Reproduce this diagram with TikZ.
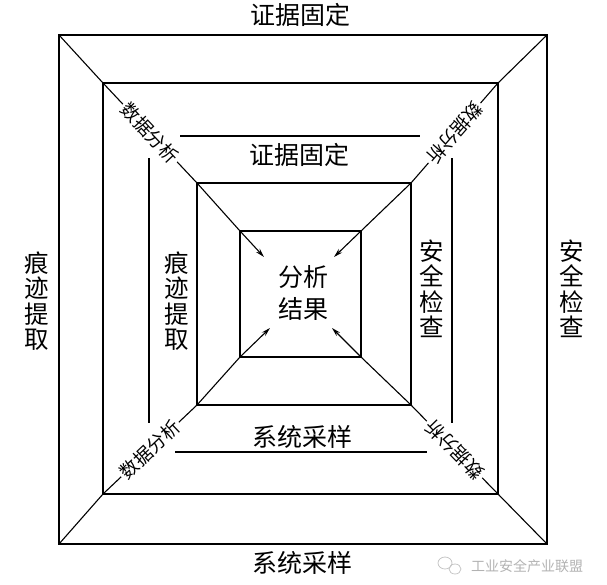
\documentclass[tikz,border=0pt]{standalone}
\usepackage{fontspec}
\setmainfont{Noto Sans CJK SC}
\usetikzlibrary{arrows.meta}

\begin{document}
\begin{tikzpicture}[x=1pt, y=-1pt,
    frame/.style={line width=1.1pt, draw=black},
    bar/.style={line width=1.1pt, draw=black},
    lbl/.style={font=\fontsize{25}{28}\selectfont, inner sep=0pt},
    vlbl/.style={font=\fontsize{24.5}{25.5}\selectfont, align=center, inner sep=0pt},
    diag/.style={font=\fontsize{18.5}{20}\selectfont, fill=white, inner sep=2.5pt, sloped, allow upside down},
    toward/.style={line width=1.1pt, -{Stealth[length=9pt, width=5pt]}}
]
    \useasboundingbox (0,0) rectangle (607,584);

    % Corners of the four squares
    \coordinate (oTL) at (59,35);   \coordinate (oTR) at (547,35);
    \coordinate (oBR) at (547,544); \coordinate (oBL) at (59,544);
    \coordinate (sTL) at (103,83);  \coordinate (sTR) at (498,83);
    \coordinate (sBR) at (498,494); \coordinate (sBL) at (103,494);
    \coordinate (mTL) at (197,183); \coordinate (mTR) at (411,183);
    \coordinate (mBR) at (411,405); \coordinate (mBL) at (197,405);
    \coordinate (iTL) at (240,231); \coordinate (iTR) at (361,231);
    \coordinate (iBR) at (361,357); \coordinate (iBL) at (240,357);
    % Arrow tips
    \coordinate (tTL) at (264,257); \coordinate (tTR) at (334,257);
    \coordinate (tBL) at (270,328); \coordinate (tBR) at (332,328);

    % Squares
    \draw[frame] (oTL) rectangle (oBR);
    \draw[frame] (sTL) rectangle (sBR);
    \draw[frame] (mTL) rectangle (mBR);
    \draw[frame] (iTL) rectangle (iBR);

    % Outer diagonals
    \draw[frame] (oTL) -- (sTL);
    \draw[frame] (oTR) -- (sTR);
    \draw[frame] (oBR) -- (sBR);
    \draw[frame] (oBL) -- (sBL);

    % Diagonals with labels
    \draw[frame] (sTL) -- node[diag] (dTL) {数据分析} (mTL);
    \draw[frame] (sTR) -- node[diag] (dTR) {数据分析} (mTR);
    \draw[frame] (sBR) -- node[diag] (dBR) {数据分析} (mBR);
    \draw[frame] (sBL) -- node[diag] (dBL) {数据分析} (mBL);

    % Arrows to the result
    \draw[toward] (mTL) -- (iTL) -- (tTL);
    \draw[toward] (mTR) -- (iTR) -- (tTR);
    \draw[toward] (mBR) -- (iBR) -- (tBR);
    \draw[toward] (mBL) -- (iBL) -- (tBL);

    % Bars in the middle ring
    \draw[bar] (180,136) -- (420,136);
    \draw[bar] (175,452) -- (427,452);
    \draw[bar] (149,158) -- (149,423);
    \draw[bar] (452,158) -- (452,423);

    % Outer labels
    \node (topOut) [lbl] at (300,15) {证据固定};
    \node (botOut) [lbl] at (302,563) {系统采样};
    \node (leftOut) [vlbl] at (37,301) {痕\\迹\\提\\取};
    \node (rightOut) [vlbl] at (572,289) {安\\全\\检\\查};

    % Inner labels
    \node (topIn) [lbl] at (299,155) {证据固定};
    \node (botIn) [lbl] at (302,437) {系统采样};
    \node (leftIn) [vlbl] at (177,301) {痕\\迹\\提\\取};
    \node (rightIn) [vlbl] at (432,289) {安\\全\\检\\查};

    % Result
    \node (result) [vlbl, font=\fontsize{25}{32}\selectfont] at (303,293) {分析\\结果};

    % Watermark
    \draw[gray!45, line width=0.8pt] (445,563) ellipse (7 and 6);
    \draw[gray!45, line width=0.8pt] (455,569) ellipse (6 and 5);
    \node (mark) [font=\fontsize{14}{16}\selectfont, text=gray!60, inner sep=0pt] at (527,566) {工业安全产业联盟};
\end{tikzpicture}
\end{document}
